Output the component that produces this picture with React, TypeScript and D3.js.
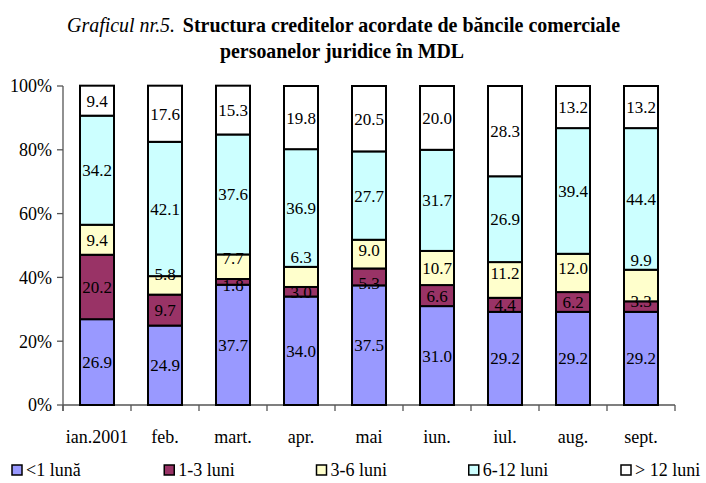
import React from "react";
import * as d3 from "d3";

const categories = ["ian.2001", "feb.", "mart.", "apr.", "mai", "iun.", "iul.", "aug.", "sept."];
const seriesNames = ["<1 lună", "1-3 luni", "3-6 luni", "6-12 luni", "> 12 luni"];
const under1 = [26.9, 24.9, 37.7, 34.0, 37.5, 31.0, 29.2, 29.2, 29.2];
const m1to3 = [20.2, 9.7, 1.8, 3.0, 5.3, 6.6, 4.4, 6.2, 3.3];
const m3to6 = [9.4, 5.8, 7.7, 6.3, 9.0, 10.7, 11.2, 12.0, 9.9];
const m6to12 = [34.2, 42.1, 37.6, 36.9, 27.7, 31.7, 26.9, 39.4, 44.4];
const over12 = [9.4, 17.6, 15.3, 19.8, 20.5, 20.0, 28.3, 13.2, 13.2];
const yTicks = [0, 20, 40, 60, 80, 100];
// manual label shifts (in percentage points) as placed in the original chart
const lift1to3 = [0, 0, -1, 0, -1.9, 0, 0, 0, 1.6];
const lift3to6 = [0, 3.4, 2.8, 6.3, 1.2, 0, 2.2, 1.6, 8];

const colors = ["#9999FF", "#993366", "#FFFFCC", "#CCFFFF", "#FFFFFF"];
const FONT = "'Liberation Serif', 'Times New Roman', serif";

export default function App() {
  const W = 706, H = 483;
  const x = d3.scaleBand<string>().domain(categories).range([63, 675]).paddingInner(0.5).paddingOuter(0.25);
  const y = d3.scaleLinear().domain([0, 100]).range([405, 86]);
  const seriesArrays = [under1, m1to3, m3to6, m6to12, over12];
  const rows = categories.map((c, i) => {
    const r: any = { cat: c };
    seriesNames.forEach((s, k) => (r[s] = seriesArrays[k][i]));
    return r;
  });
  const stacked = d3.stack<any>().keys(seriesNames)(rows);
  const lifts = [null, lift1to3, lift3to6, null, null];
  const legendX = d3.scalePoint<string>().domain(seriesNames).range([12, 621]);
  const step = x.step();
  const boundaries = d3.range(categories.length + 1).map((i) => 63 + i * step);

  return (
    <svg width={W} height={H} style={{ position: "absolute", left: 0, top: 0, background: "#fff" }} fontFamily={FONT}>
      {/* title */}
      <text x={67} y={32} fontSize={22} textLength={553} lengthAdjust="spacingAndGlyphs">
        <tspan fontStyle="italic">Graficul nr.5.</tspan>
        <tspan fontWeight="bold" dx={3}>{" Structura creditelor acordate de băncile comerciale"}</tspan>
      </text>
      <text x={220} y={58} fontSize={22} fontWeight="bold" textLength={244} lengthAdjust="spacingAndGlyphs">persoanelor juridice în MDL</text>

      {/* y axis */}
      <line x1={63} x2={63} y1={y(100)} y2={411} stroke="#555" strokeWidth={1.3} />
      {yTicks.map((t) => (
        <g key={t}>
          <line x1={57} x2={63} y1={y(t)} y2={y(t)} stroke="#555" strokeWidth={1.3} />
          <text x={52} y={y(t)} dy="0.35em" textAnchor="end" fontSize={18}>{t}%</text>
        </g>
      ))}
      {/* x axis */}
      <line x1={63} x2={boundaries[boundaries.length - 1]} y1={y(0)} y2={y(0)} stroke="#555" strokeWidth={1.3} />
      {boundaries.map((b, i) => (
        <line key={i} x1={b} x2={b} y1={y(0)} y2={411} stroke="#555" strokeWidth={1.3} />
      ))}
      {categories.map((c) => (
        <text key={c} x={(x(c) as number) + x.bandwidth() / 2} y={443} textAnchor="middle" fontSize={18}>{c}</text>
      ))}

      {/* bars */}
      {stacked.map((s, k) => (
        <g key={s.key}>
          {s.map((d, i) => (
            <rect key={i} x={x(categories[i])} y={y(d[1])} width={x.bandwidth()} height={y(d[0]) - y(d[1])}
              fill={colors[k]} stroke="#000" strokeWidth={2} />
          ))}
        </g>
      ))}
      {stacked.map((s, k) => (
        <g key={"l" + s.key}>
          {s.map((d, i) => {
            const lift = lifts[k] ? (lifts[k] as number[])[i] : 0;
            const v = seriesArrays[k][i];
            return (
              <text key={i} x={(x(categories[i]) as number) + x.bandwidth() / 2} y={y((d[0] + d[1]) / 2 + lift)}
                dy="0.35em" textAnchor="middle" fontSize={17}>{v.toFixed(1)}</text>
            );
          })}
        </g>
      ))}

      {/* legend */}
      {seriesNames.map((s, k) => (
        <g key={s} transform={`translate(${legendX(s)},0)`}>
          <rect x={0} y={465} width={10} height={10} fill={colors[k]} stroke="#000" strokeWidth={1.5} />
          <text x={14} y={476} fontSize={18}>{s}</text>
        </g>
      ))}
    </svg>
  );
}
